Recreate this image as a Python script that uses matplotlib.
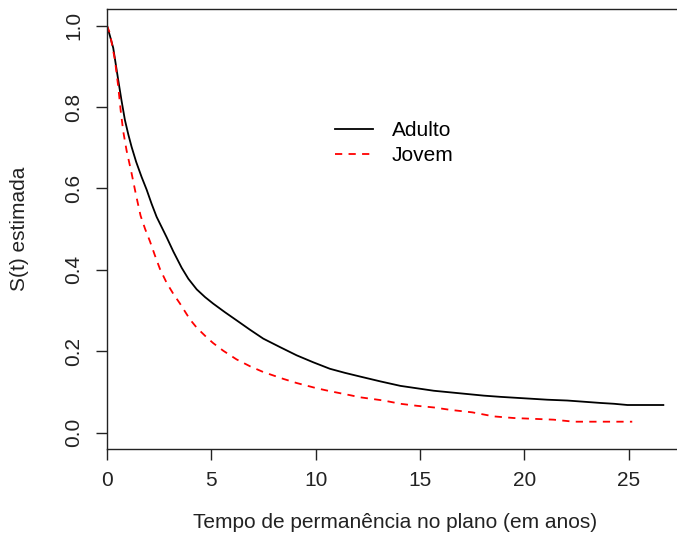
import matplotlib
matplotlib.use("Agg")
import matplotlib.pyplot as plt

plt.rcParams['font.family'] = ['Liberation Sans', 'DejaVu Sans']

# Kaplan-Meier estimates by age group (time in years)
t_adulto = [0, 0.14, 0.30, 0.54, 0.70, 0.86, 1.02, 1.18, 1.40, 1.66, 1.90, 2.14,
            2.38, 2.62, 2.86, 3.18, 3.58, 3.90, 4.30, 4.70, 5.09, 5.65, 6.21, 6.85,
            7.49, 8.30, 9.09, 9.88, 10.68, 11.40, 12.12, 13.10, 14.06, 14.86, 15.66,
            16.46, 17.26, 18.06, 18.86, 19.50, 20.14, 21.10, 22.06, 22.86, 23.66,
            24.30, 24.94, 26.66]
s_adulto = [1.0, 0.975, 0.945, 0.866, 0.815, 0.768, 0.733, 0.702, 0.665, 0.628,
            0.597, 0.562, 0.530, 0.505, 0.480, 0.445, 0.405, 0.378, 0.352, 0.333,
            0.317, 0.296, 0.276, 0.253, 0.231, 0.210, 0.190, 0.173, 0.157, 0.147,
            0.138, 0.126, 0.115, 0.109, 0.103, 0.099, 0.095, 0.091, 0.088, 0.086,
            0.084, 0.081, 0.079, 0.076, 0.073, 0.071, 0.068, 0.068]

t_jovem = [0, 0.14, 0.38, 0.54, 0.66, 0.78, 0.94, 1.18, 1.40, 1.61, 1.83, 2.06,
           2.30, 2.54, 2.86, 3.18, 3.50, 3.98, 4.30, 4.78, 5.09, 5.58, 6.21, 6.86,
           7.49, 8.46, 9.09, 10.06, 10.68, 11.66, 12.12, 13.26, 14.06, 14.86, 15.66,
           16.46, 17.50, 18.54, 19.50, 20.46, 21.40, 22.37, 25.17]
s_jovem = [1.0, 0.981, 0.916, 0.850, 0.790, 0.740, 0.693, 0.637, 0.582, 0.533,
           0.500, 0.470, 0.435, 0.402, 0.368, 0.341, 0.317, 0.278, 0.258, 0.234,
           0.220, 0.201, 0.180, 0.163, 0.149, 0.132, 0.122, 0.109, 0.102, 0.092,
           0.087, 0.079, 0.071, 0.066, 0.062, 0.056, 0.050, 0.040, 0.036, 0.034,
           0.032, 0.027, 0.027]

x_ticks = [0, 5, 10, 15, 20, 25]
y_ticks = [0.0, 0.2, 0.4, 0.6, 0.8, 1.0]
fs = 15

fig = plt.figure(figsize=(6.77, 5.41), dpi=100)
ax = fig.add_axes([0.158, 0.1701, 0.8508, 0.8128])

# the estimates are dense, so join them as a line
ax.plot(t_adulto, s_adulto, color='black', lw=1.3, label='Adulto')
ax.plot(t_jovem, s_jovem, color='red', lw=1.3, dashes=(4, 3.5), label='Jovem')

ax.set_xlim(0, 27.6)
ax.set_ylim(-0.04, 1.04)
ax.set_xticks(x_ticks)
ax.set_yticks(y_ticks)
ax.set_yticklabels([f"{v:.1f}" for v in y_ticks], rotation=90, va='center')
ax.tick_params(axis='both', direction='out', length=8, width=1.0,
               labelsize=fs, colors='#222222')
ax.tick_params(axis='x', pad=8)
ax.tick_params(axis='y', pad=9)
for sp in ax.spines.values():
    sp.set_linewidth(1.0)
    sp.set_color('#222222')
ax.spines['right'].set_visible(False)

ax.set_xlabel('Tempo de permanência no plano (em anos)', fontsize=fs,
              va='center', color='#222222')
ax.xaxis.set_label_coords(0.5, -0.168)
ax.set_ylabel('S(t) estimada', fontsize=fs, va='center', ha='center',
              color='#222222')
ax.yaxis.set_label_coords(-0.151, 0.5)

ax.legend(loc='upper left', bbox_to_anchor=(335 / 677, 1 - 121 / 541),
          bbox_transform=fig.transFigure, frameon=False, fontsize=fs,
          handlelength=1.83, handletextpad=0.9, labelspacing=0.28,
          borderpad=0, borderaxespad=0)

fig.savefig('out.png', dpi=100)
